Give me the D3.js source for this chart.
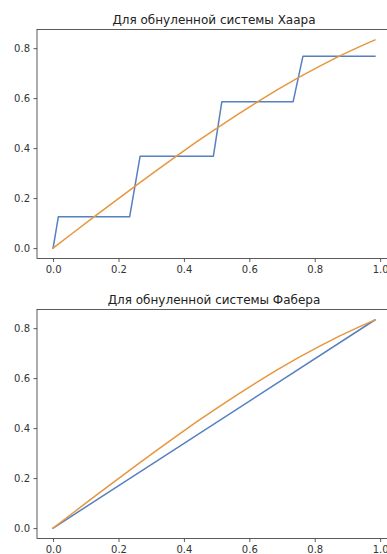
<!DOCTYPE html>
<html>
<head>
<meta charset="utf-8">
<script src="https://cdn.jsdelivr.net/npm/d3@7"></script>
<style>
html,body{margin:0;padding:0;background:#fff;}
svg{display:block;}
text{font-family:"DejaVu Sans",sans-serif;}
</style>
</head>
<body>
<svg id="chart" width="387" height="554"></svg>
<script>
// ---- data ----
const titles = ["Для обнуленной системы Хаара", "Для обнуленной системы Фабера"];
const xTicks = [0.0, 0.2, 0.4, 0.6, 0.8, 1.0];
const yTicks = [0.0, 0.2, 0.4, 0.6, 0.8];

// Haar approximation (step function corners)
const haarX = [0, 0.016, 0.234, 0.266, 0.490, 0.516, 0.734, 0.764, 0.984];
const haarY = [0, 0.125, 0.125, 0.367, 0.367, 0.586, 0.586, 0.768, 0.768];

// Original smooth function
const funcX = [0, 0.0625, 0.125, 0.1875, 0.25, 0.3125, 0.375, 0.4375, 0.5, 0.5625, 0.625, 0.6875, 0.75, 0.8125, 0.875, 0.9375, 0.984];
const funcY = [0, 0.0625, 0.125, 0.186, 0.247, 0.307, 0.366, 0.424, 0.479, 0.533, 0.585, 0.635, 0.682, 0.726, 0.768, 0.806, 0.833];

// Faber approximation (piecewise linear)
const faberX = [0, 0.984];
const faberY = [0, 0.833];

const blue = "#5680C0", orange = "#E6973E";

const svg = d3.select("#chart");

const panels = [
  {top: 29.5, title: titles[0], series: [[haarX, haarY, blue], [funcX, funcY, orange]]},
  {top: 309.5, title: titles[1], series: [[faberX, faberY, blue], [funcX, funcY, orange]]}
];

const left = 37, right = 391, h = 229;

function padded(arr) {
  const [a, b] = d3.extent(arr);
  const m = (b - a) * 0.05;
  return [a - m, b + m];
}

panels.forEach(p => {
  const allX = p.series.flatMap(s => s[0]);
  const allY = p.series.flatMap(s => s[1]);
  const x = d3.scaleLinear().domain(padded(allX)).range([left, right]);
  const y = d3.scaleLinear().domain(padded(allY)).range([p.top + h, p.top]);
  const g = svg.append("g");

  // series
  const line = d3.line();
  p.series.forEach(([xs, ys, c]) => {
    g.append("path")
      .attr("d", line(xs.map((v, i) => [x(v), y(ys[i])])))
      .attr("fill", "none").attr("stroke", c).attr("stroke-width", 1.5)
      .attr("stroke-linejoin", "round").attr("stroke-linecap", "square");
  });

  // axes
  const xa = d3.axisBottom(x).tickValues(xTicks).tickSize(3.5).tickPadding(3.5).tickFormat(d3.format(".1f"));
  const ya = d3.axisLeft(y).tickValues(yTicks).tickSize(3.5).tickPadding(3.5).tickFormat(d3.format(".1f"));
  const gx = g.append("g").attr("transform", `translate(0,${p.top + h})`).call(xa);
  const gy = g.append("g").attr("transform", `translate(${left},0)`).call(ya);
  [gx, gy].forEach(a => {
    a.select(".domain").remove();
    a.selectAll("line").attr("stroke", "#333").attr("stroke-width", 0.8);
    a.selectAll("text").attr("font-size", 10).attr("fill", "#333").attr("font-family", "DejaVu Sans");
  });

  // spines
  g.append("rect").attr("x", left).attr("y", p.top).attr("width", right - left).attr("height", h)
    .attr("fill", "none").attr("stroke", "#333").attr("stroke-width", 0.8);

  // title
  g.append("text").attr("x", (left + right) / 2).attr("y", p.top - 6)
    .attr("text-anchor", "middle").attr("font-size", 12).attr("fill", "#222")
    .text(p.title);
});
</script>
</body>
</html>
